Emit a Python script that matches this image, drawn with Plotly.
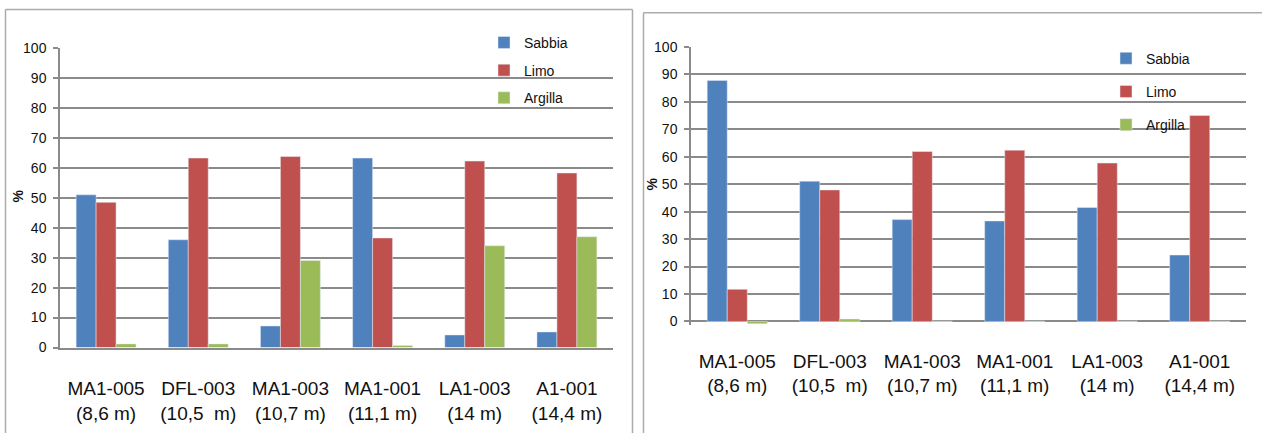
import plotly.graph_objects as go

W, H = 1262, 433

samples = ["MA1-005", "DFL-003", "MA1-003", "MA1-001", "LA1-003", "A1-001"]
tick_labels = ["MA1-005<br>(8,6 m)", "DFL-003<br>(10,5 \u00a0m)", "MA1-003<br>(10,7 m)",
               "MA1-001<br>(11,1 m)", "LA1-003<br>(14 m)", "A1-001<br>(14,4 m)"]
series_names = ["Sabbia", "Limo", "Argilla"]
colors = ["#4F81BD", "#C0504D", "#9BBB59"]

# left chart values (%)
left_sabbia = [51.0, 36.0, 7.2, 63.3, 4.2, 5.2]
left_limo = [48.5, 63.3, 63.8, 36.6, 62.3, 58.3]
left_argilla = [1.2, 1.2, 29.1, 0.7, 34.0, 37.0]

# right chart values (%)
right_sabbia = [87.8, 51.1, 37.1, 36.6, 41.5, 24.2]
right_limo = [11.7, 47.9, 61.9, 62.4, 57.7, 75.0]
right_argilla = [-0.8, 0.9, 0.1, 0.1, 0.1, 0.1]

yticks = list(range(0, 101, 10))

FONT = "Liberation Sans, Arial, sans-serif"


def px(x):
    return x / W


def py(y):
    # vertical pixel (from top of the picture) -> paper fraction,
    # corrected for the slight vertical squeeze seen in the captured page
    page = (y - 7.9) / 0.961
    return 1 - page / H


fig = go.Figure()

left_vals = [left_sabbia, left_limo, left_argilla]
right_vals = [right_sabbia, right_limo, right_argilla]
for i, name in enumerate(series_names):
    fig.add_trace(go.Bar(x=samples, y=left_vals[i], name=name, marker_color=colors[i],
                         xaxis="x", yaxis="y", legend="legend", legendgroup="l" + name))
for i, name in enumerate(series_names):
    fig.add_trace(go.Bar(x=samples, y=right_vals[i], name=name, marker_color=colors[i],
                         xaxis="x2", yaxis="y2", legend="legend2", legendgroup="r" + name))

grid = "#8a8a8a"
common_x = dict(type="category", tickvals=samples, ticktext=tick_labels, ticks="",
                tickfont=dict(family=FONT, size=19, color="#111"),
                showgrid=False, fixedrange=True)
common_y = dict(tickvals=yticks, ticks="outside", ticklen=5, tickcolor=grid, tickwidth=1.5,
                showgrid=True, gridcolor=grid, gridwidth=1.5,
                showline=True, linecolor=grid, linewidth=1.5,
                tickfont=dict(family=FONT, size=14, color="#111"))

fig.update_layout(
    width=W, height=H,
    margin=dict(l=0, r=0, t=0, b=0),
    paper_bgcolor="white", plot_bgcolor="white",
    barmode="group", bargap=0.35, bargroupgap=0,
    font=dict(family=FONT, color="#111"),
    xaxis=dict(domain=[px(60), px(613)], anchor="y", showline=True, linecolor=grid,
               linewidth=1.5, ticklabelstandoff=23, **common_x),
    yaxis=dict(domain=[py(346.7), py(48)], anchor="x", range=[0, 100], zeroline=False,
               ticklabelstandoff=4, **common_y),
    xaxis2=dict(domain=[px(691), px(1246)], anchor="y2", showline=False,
                ticklabelstandoff=23, **common_x),
    yaxis2=dict(domain=[py(324.0), py(46.7)], anchor="x2", range=[-1.2, 100],
                zeroline=True, zerolinecolor=grid, zerolinewidth=1.5,
                ticklabelstandoff=4, **common_y),
    legend=dict(x=px(484), y=py(26.7), xanchor="left", yanchor="top",
                font=dict(family=FONT, size=14, color="#111"), bgcolor="rgba(0,0,0,0)",
                tracegroupgap=6.5),
    legend2=dict(x=px(1106), y=py(42.5), xanchor="left", yanchor="top",
                 font=dict(family=FONT, size=14, color="#111"), bgcolor="rgba(0,0,0,0)",
                 tracegroupgap=12),
    showlegend=True,
)

# "%" axis titles
fig.add_annotation(text="<b>%</b>", x=px(18), y=py(196), xref="paper", yref="paper",
                   xanchor="center", yanchor="middle",
                   textangle=-90, showarrow=False, font=dict(family=FONT, size=14, color="#111"))
fig.add_annotation(text="<b>%</b>", x=px(652), y=py(184), xref="paper", yref="paper",
                   xanchor="center", yanchor="middle",
                   textangle=-90, showarrow=False, font=dict(family=FONT, size=14, color="#111"))

# chart frames
border = dict(color="#ababab", width=1.5)
for (x0, y0, x1, y1) in [(5.5, 9.5, 5.5, 440), (5.5, 9.5, 632.5, 9.5), (632.5, 9.5, 632.5, 440),
                         (643.5, 12.7, 643.5, 440), (643.5, 12.7, 1262, 12.7)]:
    fig.add_shape(type="line", xref="paper", yref="paper", x0=px(x0), y0=py(y0),
                  x1=px(x1), y1=py(y1), line=border)

post = ("var de=document.documentElement,b=document.body;"
        "de.style.margin='0';de.style.padding='0';de.style.overflow='hidden';"
        "b.style.margin='0';b.style.padding='0';b.style.overflow='hidden';")

fig.write_html("out.html", config={"displayModeBar": False}, post_script=post)
